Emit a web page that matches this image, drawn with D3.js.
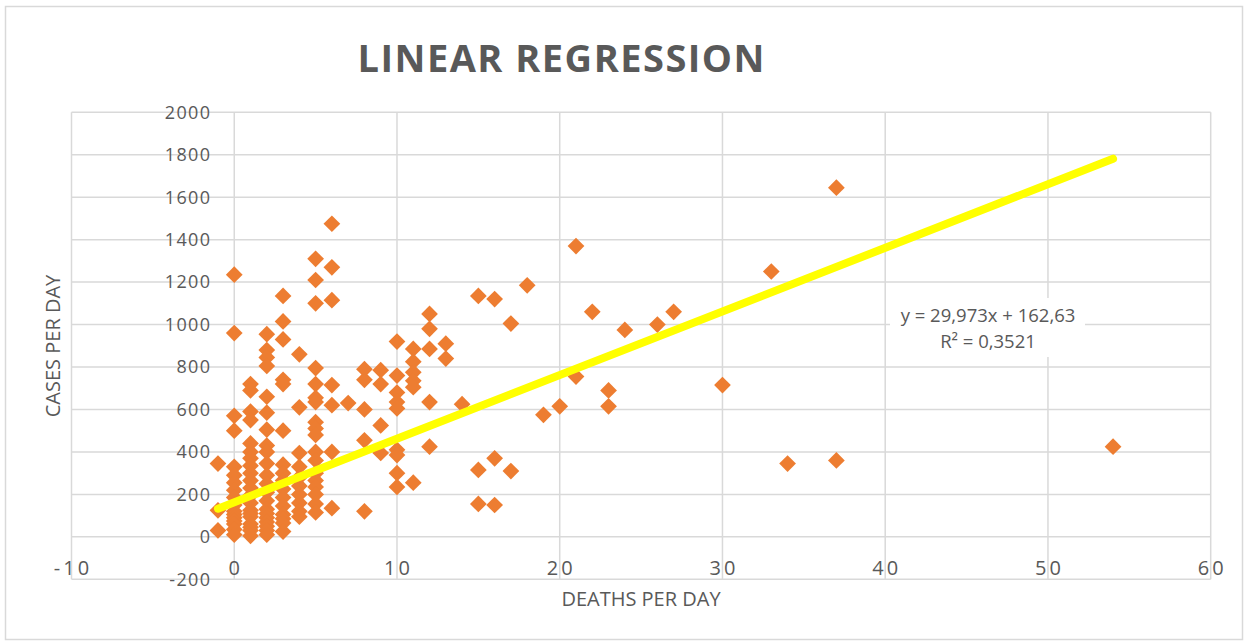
<!DOCTYPE html>
<html>
<head>
<meta charset="utf-8">
<script src="https://cdn.jsdelivr.net/npm/d3@7"></script>
<style>
  body { margin: 0; background: #fff; }
  text { font-family: "Open Sans", "DejaVu Sans", sans-serif; fill: #595959; }
</style>
</head>
<body>
<svg id="chart" width="1248" height="644"></svg>
<script>
// deaths per day (x) and cases per day (y)
var deaths = [
  -1, -1, -1,
  0, 0, 0, 0, 0, 0, 0, 0, 0, 0, 0, 0, 0, 0, 0, 0, 0,
  1, 1, 1, 1, 1, 1, 1, 1, 1, 1, 1, 1, 1, 1, 1, 1, 1, 1, 1, 1,
  2, 2, 2, 2, 2, 2, 2, 2, 2, 2, 2, 2, 2, 2, 2, 2, 2, 2, 2, 2, 2,
  3, 3, 3, 3, 3, 3, 3, 3, 3, 3, 3, 3, 3, 3, 3, 3,
  4, 4, 4, 4, 4, 4, 4, 4, 4, 4,
  5, 5, 5, 5, 5, 5, 5, 5, 5, 5, 5, 5, 5, 5, 5, 5, 5, 5,
  6, 6, 6, 6, 6, 6, 6,
  7,
  8, 8, 8, 8, 8,
  9, 9, 9, 9,
  10, 10, 10, 10, 10, 10, 10, 10, 10,
  11, 11, 11, 11, 11, 11,
  12, 12, 12, 12, 12,
  13, 13,
  14,
  15, 15, 15,
  16, 16, 16,
  17, 17,
  18, 19, 20,
  21, 21,
  22,
  23, 23,
  24, 26, 27, 30, 33, 34,
  37, 37,
  54
];
var cases = [
  345, 125, 30,
  1235, 960, 570, 500, 330, 290, 255, 220, 185, 150, 120, 105, 90, 75, 60, 35, 10,
  720, 690, 590, 550, 440, 400, 370, 335, 300, 265, 230, 195, 160, 125, 110, 95, 60, 45, 30, 5,
  955, 880, 845, 805, 660, 585, 505, 430, 400, 345, 290, 250, 210, 170, 130, 110, 90, 70, 50, 30, 10,
  1135, 1015, 930, 740, 720, 500, 340, 300, 265, 225, 185, 145, 105, 85, 65, 25,
  860, 610, 395, 330, 280, 240, 200, 160, 120, 95,
  1310, 1210, 1100, 795, 720, 655, 635, 540, 510, 480, 400, 360, 300, 265, 235, 200, 155, 115,
  1475, 1270, 1115, 715, 620, 400, 135,
  630,
  790, 740, 600, 455, 120,
  785, 720, 525, 395,
  920, 760, 680, 635, 605, 410, 385, 300, 235,
  885, 825, 775, 735, 705, 255,
  1050, 980, 885, 635, 425,
  910, 840,
  625,
  1135, 315, 155,
  1120, 370, 150,
  1005, 310,
  1185, 575, 615,
  1370, 755,
  1060,
  690, 615,
  975, 1000, 1060, 715, 1250, 345,
  1645, 360,
  425
];
var xTicks = [-10, 0, 10, 20, 30, 40, 50, 60];
var yTicks = [-200, 0, 200, 400, 600, 800, 1000, 1200, 1400, 1600, 1800, 2000];
// trendline as printed on the chart
var slope = 29.973;
var intercept = 162.63;
var eqLabels = ["y = 29,973x + 162,63", "R² = 0,3521"];

var points = deaths.map(function (d, i) { return { x: d, y: cases[i] }; });

var svg = d3.select("#chart");

// chart border
svg.append("rect")
  .attr("x", 5.5).attr("y", 6.5)
  .attr("width", 1237).attr("height", 633)
  .attr("fill", "#fff")
  .attr("stroke", "#d9d9d9")
  .attr("stroke-width", 1.5);

var xScale = d3.scaleLinear().domain([-10, 60]).range([71.5, 1210.7]);
var yScale = d3.scaleLinear().domain([-200, 2000]).range([579.3, 112.3]);

// gridlines
var grid = svg.append("g");
grid.selectAll("line.h").data(yTicks).enter().append("line")
  .attr("class", "h")
  .attr("x1", xScale(-10)).attr("x2", xScale(60))
  .attr("y1", function (d) { return yScale(d); })
  .attr("y2", function (d) { return yScale(d); })
  .attr("stroke", "#d9d9d9").attr("stroke-width", 1.5);
grid.selectAll("line.v").data(xTicks).enter().append("line")
  .attr("class", "v")
  .attr("y1", yScale(-200)).attr("y2", yScale(2000))
  .attr("x1", function (d) { return xScale(d); })
  .attr("x2", function (d) { return xScale(d); })
  .attr("stroke", "#d9d9d9").attr("stroke-width", 1.5);

// y tick labels, next to the axis at x = 0
svg.append("g").selectAll("text").data(yTicks).enter().append("text")
  .attr("x", xScale(0) - 23)
  .attr("y", function (d) { return yScale(d); })
  .attr("dy", "0.35em")
  .attr("text-anchor", "end")
  .style("font-size", "18px")
  .style("letter-spacing", "1.3px")
  .text(function (d) { return d; });

// x tick labels
svg.append("g").selectAll("text").data(xTicks).enter().append("text")
  .attr("x", function (d) { return xScale(d) + 1.5; })
  .attr("y", 568)
  .attr("dy", "0.35em")
  .attr("text-anchor", "middle")
  .style("font-size", "20px")
  .style("letter-spacing", "3px")
  .text(function (d) { return d; });

// markers
var diamond = d3.symbol().type(d3.symbolSquare).size(140);
svg.append("g").selectAll("path").data(points).enter().append("path")
  .attr("d", diamond)
  .attr("transform", function (d) {
    return "translate(" + xScale(d.x) + "," + yScale(d.y) + ") rotate(45)";
  })
  .attr("fill", "#ed7d31");

// linear trendline
var xMin = d3.min(deaths), xMax = d3.max(deaths);
var trend = [xMin, xMax].map(function (x) { return { x: x, y: slope * x + intercept }; });
svg.append("path")
  .datum(trend)
  .attr("d", d3.line().x(function (d) { return xScale(d.x); }).y(function (d) { return yScale(d.y); }))
  .attr("fill", "none")
  .attr("stroke", "#ffff00")
  .attr("stroke-width", 8)
  .attr("stroke-linecap", "round");

// equation label
svg.append("rect")
  .attr("x", 890).attr("y", 298)
  .attr("width", 195).attr("height", 59)
  .attr("fill", "#fff");
svg.append("g").selectAll("text").data(eqLabels).enter().append("text")
  .attr("x", 988)
  .attr("y", function (d, i) { return 316 + i * 26; })
  .attr("dy", "0.35em")
  .attr("text-anchor", "middle")
  .style("font-size", "18.5px")
  .text(function (d) { return d; });

// title
svg.append("text")
  .attr("x", 561).attr("y", 59)
  .attr("dy", "0.35em")
  .attr("text-anchor", "middle")
  .attr("textLength", 407)
  .attr("lengthAdjust", "spacing")
  .style("font-size", "38px")
  .style("font-weight", "bold")
  .text("LINEAR REGRESSION");

// axis titles
svg.append("text")
  .attr("x", 641).attr("y", 599)
  .attr("dy", "0.35em")
  .attr("text-anchor", "middle")
  .style("font-size", "20px")
  .text("DEATHS PER DAY");

svg.append("text")
  .attr("transform", "translate(53,346) rotate(-90)")
  .attr("dy", "0.35em")
  .attr("text-anchor", "middle")
  .style("font-size", "20px")
  .text("CASES PER DAY");
</script>
</body>
</html>
